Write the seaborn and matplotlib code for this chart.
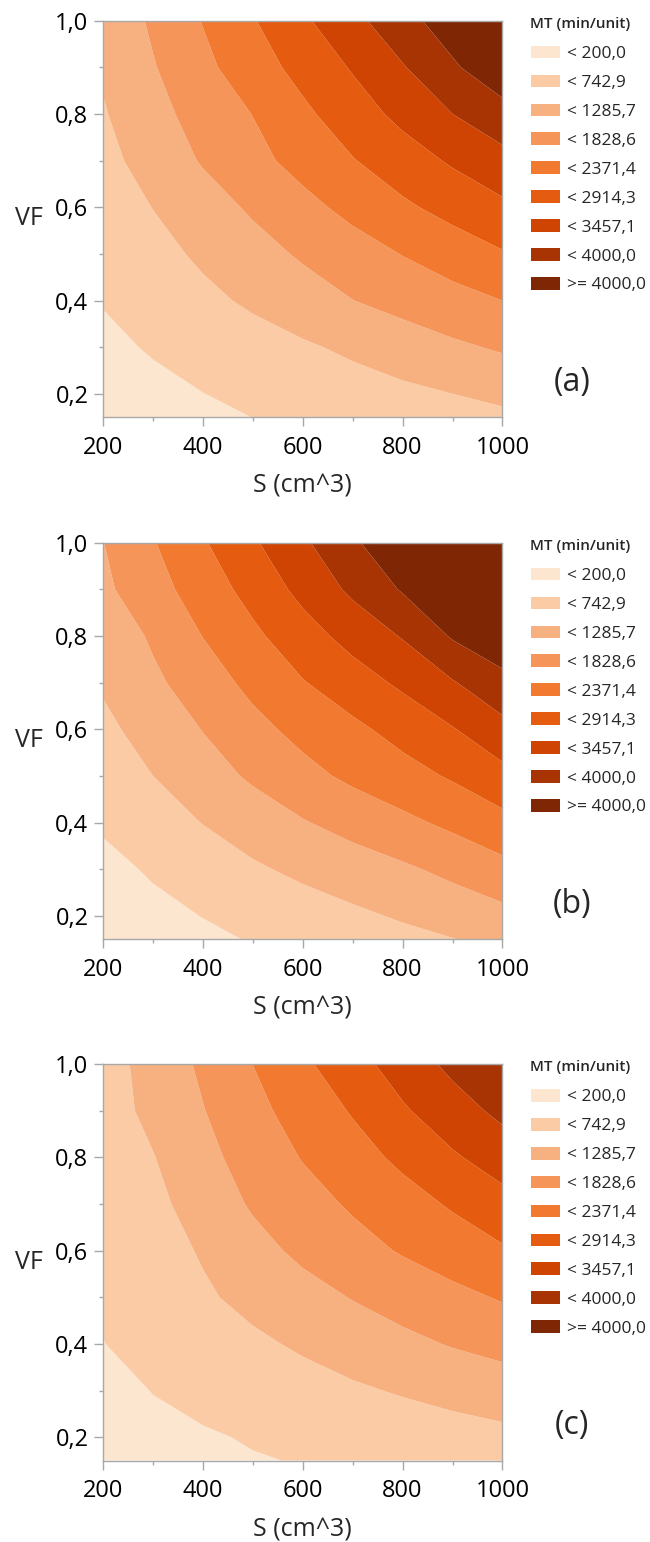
import numpy as np
import matplotlib
matplotlib.use("Agg")
import matplotlib.pyplot as plt
from matplotlib.patches import Patch
import seaborn as sns

# ---------------- data ----------------
S = [200, 300, 400, 500, 600, 700, 800, 900, 1000]
VF = [0.15, 0.2, 0.3, 0.4, 0.5, 0.6, 0.7, 0.8, 0.9, 1.0]

# MT (min/unit), rows follow VF (ascending), columns follow S
MT_a = [
    [-40, 30, 117, 203, 289, 375, 462, 548, 634],
    [20, 85, 194, 304, 413, 523, 632, 742, 872],
    [96, 241, 386, 530, 675, 838, 1017, 1196, 1349],
    [225, 420, 620, 827, 1054, 1280, 1465, 1648, 1830],
    [330, 572, 833, 1094, 1352, 1599, 1846, 2087, 2329],
    [450, 753, 1056, 1361, 1674, 1981, 2281, 2550, 2806],
    [585, 960, 1331, 1674, 2010, 2343, 2664, 2982, 3292],
    [700, 1115, 1494, 1840, 2264, 2664, 3058, 3457, 3783],
    [810, 1250, 1700, 2128, 2544, 2960, 3420, 3917, 4416],
    [882, 1366, 1851, 2333, 2825, 3311, 3802, 4296, 4790],
]
MT_b = [
    [-100, -21, 104, 229, 355, 480, 605, 730, 856],
    [0, 65, 211, 356, 501, 646, 799, 966, 1133],
    [53, 259, 465, 670, 855, 1029, 1203, 1417, 1668],
    [270, 509, 756, 1003, 1250, 1478, 1704, 1946, 2209],
    [445, 743, 1056, 1366, 1669, 1941, 2178, 2431, 2752],
    [630, 941, 1303, 1675, 1986, 2255, 2556, 2882, 3294],
    [800, 1177, 1576, 1966, 2342, 2670, 3014, 3417, 3837],
    [889, 1365, 1840, 2262, 2694, 3102, 3495, 4054, 4380],
    [1178, 1628, 2083, 2559, 3063, 3564, 4048, 4520, 4950],
    [1275, 1794, 2319, 2844, 3370, 3910, 4452, 4995, 5500],
]
MT_c = [
    [40, 86, 131, 175, 219, 263, 308, 352, 396],
    [60, 120, 158, 232, 307, 382, 457, 532, 607],
    [100, 208, 324, 440, 556, 672, 789, 909, 1029],
    [192, 344, 498, 652, 813, 987, 1161, 1322, 1452],
    [249, 461, 672, 885, 1099, 1310, 1500, 1690, 1875],
    [270, 525, 790, 1114, 1398, 1639, 1875, 2092, 2309],
    [330, 605, 978, 1345, 1624, 1899, 2161, 2432, 2733],
    [400, 721, 1132, 1508, 1857, 2163, 2487, 2849, 3162],
    [497, 881, 1265, 1677, 2053, 2415, 2850, 3226, 3589],
    [514, 943, 1376, 1832, 2269, 2718, 3157, 3589, 4030],
]

levels = [200.0, 742.9, 1285.7, 1828.6, 2371.4, 2914.3, 3457.1, 4000.0]
legend_labels = ["< 200,0", "< 742,9", "< 1285,7", "< 1828,6", "< 2371,4",
                 "< 2914,3", "< 3457,1", "< 4000,0", ">= 4000,0"]
band_colors = ["#FDE6CF", "#FACBA5", "#F7B07F", "#F5955A", "#F17A30",
               "#E55B10", "#CF4402", "#A83404", "#7F2704"]
x_ticks = [200, 400, 600, 800, 1000]
x_ticklabels = ["200", "400", "600", "800", "1000"]
y_ticks = [0.2, 0.4, 0.6, 0.8, 1.0]
y_ticklabels = ["0,2", "0,4", "0,6", "0,8", "1,0"]
panel_tags = ["(a)", "(b)", "(c)"]

# ---------------- style ----------------
sns.set_theme(style="white")
plt.rcParams["font.family"] = ["Open Sans", "DejaVu Sans"]

W, H = 650, 1542
fig = plt.figure(figsize=(W / 100, H / 100), dpi=100)

axis_gray = "#A8A8A8"
tops_px = [20.7, 542.7, 1064.0]
plot_h_px = 396.5
left_px, right_px = 103.0, 502.5

lo_edge = -1e4
hi_edge = 1e5
all_levels = [lo_edge] + levels + [hi_edge]

for data, top, tag in zip([MT_a, MT_b, MT_c], tops_px, panel_tags):
    bottom = top + plot_h_px
    ax = fig.add_axes([left_px / W, 1 - bottom / H,
                       (right_px - left_px) / W, plot_h_px / H])
    Z = np.array(data, dtype=float)
    ax.contourf(S, VF, Z, levels=all_levels, colors=band_colors,
                antialiased=True)
    ax.set_xlim(200, 1000)
    ax.set_ylim(0.15, 1.0)
    ax.set_xticks(x_ticks)
    ax.set_xticklabels(x_ticklabels)
    ax.set_yticks(y_ticks)
    ax.set_yticklabels(y_ticklabels)
    ax.set_xticks([300, 500, 700, 900], minor=True)
    ax.set_yticks([0.3, 0.5, 0.7, 0.9], minor=True)
    ax.tick_params(which="major", length=6.5, width=1.0, color=axis_gray,
                   labelsize=17, pad=4, labelcolor="black",
                   bottom=True, left=True, direction="out")
    ax.tick_params(axis="x", which="major", pad=7)
    ax.tick_params(which="minor", length=3, width=1.0, color=axis_gray,
                   bottom=True, left=True, direction="out")
    for sp in ax.spines.values():
        sp.set_color(axis_gray)
        sp.set_linewidth(1.0)
    ax.set_xlabel("S (cm^3)", fontsize=18, labelpad=10)
    ax.set_ylabel("VF", fontsize=18, rotation=0, va="center")
    ax.yaxis.set_label_coords(-0.185, 0.5)

    # legend title and entries
    fig.text(530 / W, 1 - (top + 3) / H, "MT (min/unit)", ha="left",
             va="center", fontsize=11, fontweight="semibold")
    handles = [Patch(facecolor=c, edgecolor="none") for c in band_colors]
    fig.legend(handles, legend_labels,
               loc="upper left",
               bbox_to_anchor=(531 / W, 1 - (top + 25) / H),
               frameon=False, fontsize=12.5,
               handlelength=1.65, handleheight=0.75,
               handletextpad=0.4, labelspacing=0.72,
               borderpad=0, borderaxespad=0)
    fig.text(572 / W, 1 - (bottom - 35) / H, tag, ha="center", va="center",
             fontsize=23)

fig.savefig("out.png", dpi=100)
